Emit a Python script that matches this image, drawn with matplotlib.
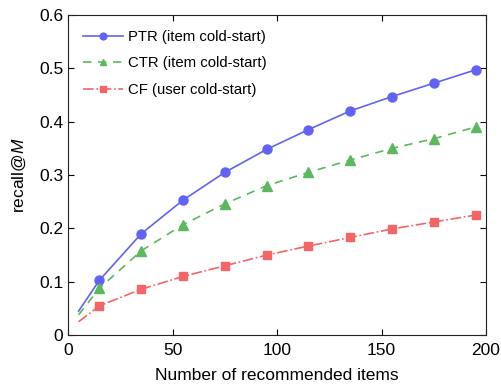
import matplotlib
matplotlib.use("Agg")
import matplotlib.pyplot as plt

plt.rcParams['font.family'] = ['Liberation Sans', 'DejaVu Sans']
plt.rcParams['mathtext.fontset'] = 'custom'
plt.rcParams['mathtext.it'] = 'Liberation Sans:italic'
plt.rcParams['mathtext.rm'] = 'Liberation Sans'

# first point (x=5) has no marker
x = [5, 15, 35, 55, 75, 95, 115, 135, 155, 175, 195]
ptr = [0.045, 0.103, 0.190, 0.253, 0.305, 0.348, 0.385, 0.420, 0.447, 0.472, 0.497]
ctr = [0.038, 0.088, 0.158, 0.207, 0.246, 0.280, 0.305, 0.328, 0.350, 0.368, 0.390]
cf = [0.025, 0.055, 0.086, 0.110, 0.130, 0.150, 0.167, 0.183, 0.199, 0.212, 0.225]

labels = ['PTR (item cold-start)', 'CTR (item cold-start)', 'CF (user cold-start)']

fig = plt.figure(figsize=(5.01, 3.92), dpi=100)
ax = fig.add_axes([0.136, 0.145, 0.834, 0.817])

ax.plot(x, ptr, '-', color='#6262f5', marker='o', markersize=6.5,
        markevery=slice(1, None), lw=1.2, label=labels[0])
ax.plot(x, ctr, '--', color='#5cb85c', marker='^', markersize=6.5,
        markevery=slice(1, None), lw=1.2, dashes=(5, 4), label=labels[1])
ax.plot(x, cf, '-.', color='#f56565', marker='s', markersize=6,
        markevery=slice(1, None), lw=1.2, label=labels[2])

ax.set_xlim(0, 200)
ax.set_ylim(0, 0.6)
ax.set_xticks([0, 50, 100, 150, 200])
ax.set_yticks([0, 0.1, 0.2, 0.3, 0.4, 0.5, 0.6])
ax.set_yticklabels(['0', '0.1', '0.2', '0.3', '0.4', '0.5', '0.6'])
ax.tick_params(direction='in', top=True, right=True, labelsize=12.5, length=4)
ax.tick_params(axis='x', pad=6)
for s in ax.spines.values():
    s.set_color('#222222')
ax.set_xlabel('Number of recommended items', fontsize=12.5, labelpad=7)
ax.set_ylabel(r'recall@$M$', fontsize=12.5, labelpad=8)

ax.legend(loc='upper left', frameon=False, fontsize=10.7, handlelength=2.7,
          borderaxespad=0.6, labelspacing=0.85, markerscale=0.75,
          handletextpad=0.35)

fig.savefig('out.png', dpi=100)
